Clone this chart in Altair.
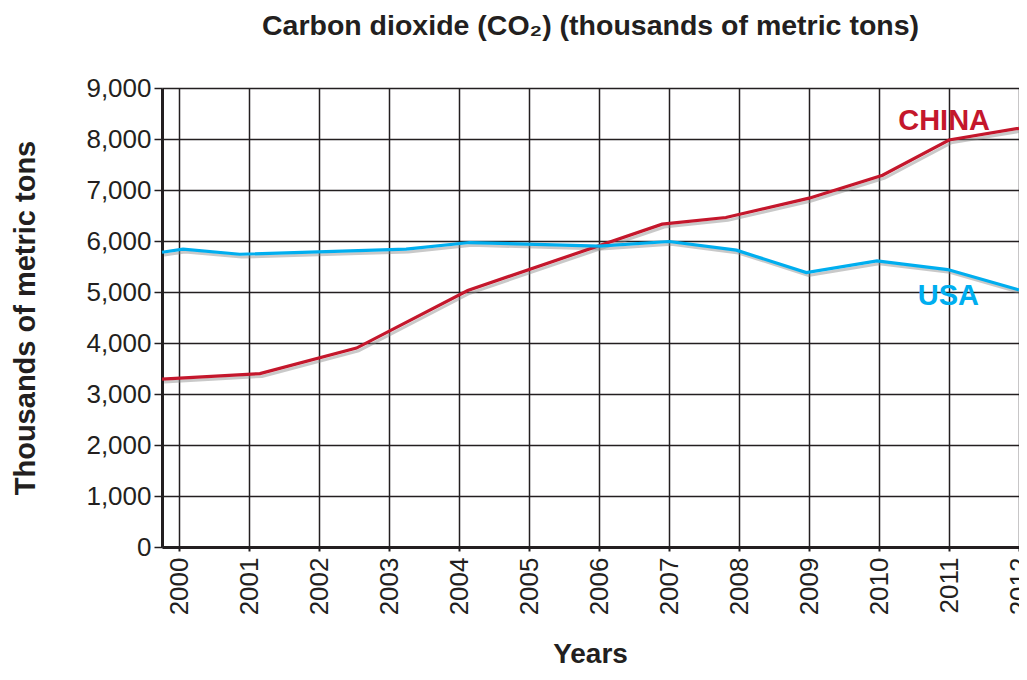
import altair as alt
import pandas as pd

# ---- data ----
china_years = [1999.75, 2001.15, 2002.53, 2004.12, 2006.9, 2007.81, 2009.0, 2010.05, 2011.0, 2012.0]
china_vals = [3290, 3400, 3900, 5030, 6330, 6460, 6840, 7290, 7980, 8210]

usa_years = [1999.75, 2000.05, 2000.86, 2003.24, 2004.15, 2006.0, 2007.0, 2007.96, 2008.96, 2009.97, 2010.98, 2012.0]
usa_vals = [5780, 5840, 5740, 5840, 5970, 5900, 5990, 5820, 5380, 5610, 5440, 5040]

year_ticks = list(range(2000, 2013))
value_ticks = list(range(0, 10000, 1000))

label_names = ["CHINA", "USA"]
label_years = [2010.93, 2010.99]
label_vals = [8176, 4745]

RED = "#c4172c"
BLUE = "#00aeef"
INK = "#231f20"
FONT = "Liberation Sans"

df = pd.concat([
    pd.DataFrame({"year": china_years, "value": china_vals, "country": "CHINA"}),
    pd.DataFrame({"year": usa_years, "value": usa_vals, "country": "USA"}),
])
labels = pd.DataFrame({"year": label_years, "value": label_vals, "country": label_names})

xscale = alt.Scale(domain=[1999.75, 2012.0], nice=False, zero=False)
yscale = alt.Scale(domain=[0, 9000], nice=False)
cscale = alt.Scale(domain=["CHINA", "USA"], range=[RED, BLUE])

xaxis = alt.Axis(
    values=year_ticks, format="d", labelAngle=270, labelFontSize=26, labelFont=FONT,
    labelColor=INK, labelPadding=6, tickSize=4, tickColor=INK, tickWidth=2,
    domainColor=INK, domainWidth=3, grid=True, gridColor=INK, gridWidth=1.5,
    title="Years", titleFontSize=28, titleFont=FONT, titleFontWeight="bold",
    titleColor=INK, titleX=428, titleY=115, titleAlign="center", titleBaseline="alphabetic",
    labelFlush=False, labelOverlap=False,
)
yaxis = alt.Axis(
    values=value_ticks, format=",d", labelFontSize=26, labelFont=FONT, labelColor=INK,
    labelPadding=3, tickSize=8, tickColor=INK, tickWidth=1.5, domainColor=INK,
    domainWidth=3, grid=True, gridColor=INK, gridWidth=1.5,
    title="Thousands of metric tons", titleFontSize=29, titleFont=FONT,
    titleFontWeight="bold", titleColor=INK, titleAngle=270, titleX=-137, titleY=229.5,
    titleAlign="center", titleBaseline="middle", labelFlush=False, labelOverlap=False,
)

base = alt.Chart(df)

shadow = base.transform_calculate(
    sx="datum.year + 0.03", sy="datum.value - 55"
).mark_line(color="#888888", strokeWidth=3, opacity=0.45).encode(
    x=alt.X("sx:Q", scale=xscale, axis=xaxis),
    y=alt.Y("sy:Q", scale=yscale, axis=yaxis),
    detail="country:N",
)

lines = base.mark_line(strokeWidth=3.2).encode(
    x=alt.X("year:Q", scale=xscale),
    y=alt.Y("value:Q", scale=yscale),
    color=alt.Color("country:N", scale=cscale, legend=None),
)

text = alt.Chart(labels).mark_text(
    font=FONT, fontSize=29, fontWeight="bold", align="center", baseline="alphabetic"
).encode(
    x=alt.X("year:Q", scale=xscale),
    y=alt.Y("value:Q", scale=yscale),
    text="country:N",
    color=alt.Color("country:N", scale=cscale, legend=None),
)

chart = alt.layer(shadow, lines, text).properties(
    width=857,
    height=459,
    autosize=alt.AutoSizeParams(type="none"),
    padding={"left": 154, "top": 80, "right": 0, "bottom": 123},
    title=alt.TitleParams(
        "Carbon dioxide (CO₂) (thousands of metric tons)",
        font=FONT, fontSize=28.5, fontWeight="bold", color=INK,
        anchor="middle", frame="group", offset=35,
    ),
).configure_view(stroke=None)

chart.save("out.html", embed_options={"renderer": "svg", "actions": False})
